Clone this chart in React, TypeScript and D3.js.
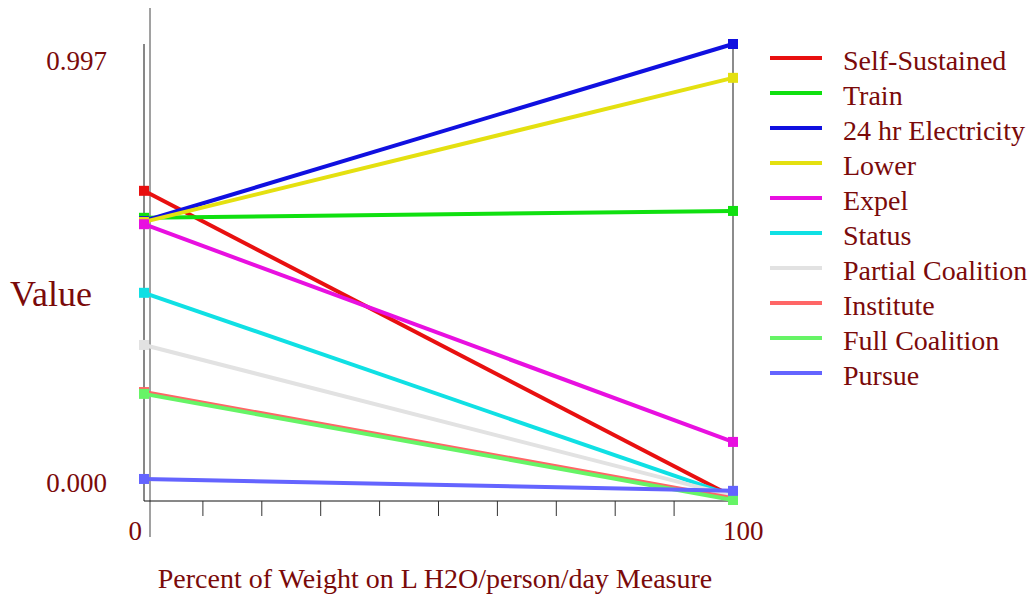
import React from "react";
import * as d3 from "d3";

const seriesNames = [
  "Self-Sustained",
  "Train",
  "24 hr Electricity",
  "Lower",
  "Expel",
  "Status",
  "Partial Coalition",
  "Institute",
  "Full Coalition",
  "Pursue",
];
const seriesColors = [
  "#e81010",
  "#10e010",
  "#1010e0",
  "#e4e010",
  "#e810e0",
  "#10e0e4",
  "#e2e2e2",
  "#ff6666",
  "#66f466",
  "#6464ff",
];
const valuesAt0 = [0.676, 0.617, 0.61, 0.608, 0.603, 0.453, 0.339, 0.236, 0.232, 0.046];
const valuesAt100 = [0.007, 0.632, 0.997, 0.923, 0.127, 0.009, 0.009, 0.004, 0.0, 0.02];
const weights = [0, 100];
const xTickValues = [10, 20, 30, 40, 50, 60, 70, 80, 90];
const yTickLabels = [
  { value: 0.997, label: "0.997", inset: 17 },
  { value: 0.0, label: "0.000", inset: -17 },
];

const FONT = "'Liberation Serif', 'Times New Roman', serif";
const TXT = "#7a0a0a";

export default function App() {
  const x = d3.scaleLinear().domain([0, 100]).range([144, 733]);
  const y = d3.scaleLinear().domain([0, 0.997]).range([500, 44]);
  const line = d3
    .line<[number, number]>()
    .x((d) => x(d[0]))
    .y((d) => y(d[1]));
  const axisY = 501;

  return (
    <div style={{ position: "absolute", left: 0, top: 0 }}>
      <svg width={1032} height={599} style={{ display: "block", background: "#fff" }}>
        <line x1={150} x2={150} y1={8} y2={537} stroke="#444" strokeWidth={1} />
        <line x1={x(0)} x2={x(0)} y1={44} y2={axisY} stroke="#111" strokeWidth={1} />
        <line x1={x(100)} x2={x(100)} y1={44} y2={axisY} stroke="#666" strokeWidth={1.5} />
        <line x1={x(0)} x2={x(100)} y1={axisY} y2={axisY} stroke="#111" strokeWidth={1} />
        {xTickValues.map((t) => (
          <line key={t} x1={x(t)} x2={x(t)} y1={axisY} y2={axisY + 15} stroke="#333" strokeWidth={1} />
        ))}
        {yTickLabels.map((t) => (
          <text
            key={t.label}
            x={107}
            y={y(t.value) + t.inset}
            textAnchor="end"
            dominantBaseline="central"
            fontFamily={FONT}
            fontSize={27}
            fill={TXT}
          >
            {t.label}
          </text>
        ))}
        <text x={x(0) - 2} y={531} textAnchor="end" dominantBaseline="central" fontFamily={FONT} fontSize={27} fill={TXT}>
          0
        </text>
        <text x={x(100) - 10} y={531} textAnchor="start" dominantBaseline="central" fontFamily={FONT} fontSize={27} fill={TXT}>
          100
        </text>
        <text x={51} y={294} textAnchor="middle" dominantBaseline="central" fontFamily={FONT} fontSize={36} fill={TXT}>
          Value
        </text>
        <text x={435} y={578} textAnchor="middle" dominantBaseline="central" fontFamily={FONT} fontSize={28} fill={TXT}>
          Percent of Weight on L H2O/person/day Measure
        </text>
        {seriesNames.map((name, i) => {
          const pts: [number, number][] = [
            [weights[0], valuesAt0[i]],
            [weights[1], valuesAt100[i]],
          ];
          return (
            <g key={name}>
              <path d={line(pts) || ""} fill="none" stroke={seriesColors[i]} strokeWidth={4} />
              {pts.map((p, j) => (
                <rect
                  key={j}
                  x={x(p[0]) - 5}
                  y={y(p[1]) - 5}
                  width={10}
                  height={10}
                  fill={seriesColors[i]}
                />
              ))}
            </g>
          );
        })}
        {seriesNames.map((name, i) => (
          <g key={name} transform={`translate(770, ${58 + 35 * i})`}>
            <line x1={0} x2={52} y1={0} y2={0} stroke={seriesColors[i]} strokeWidth={4} />
            <text x={73} y={2} dominantBaseline="central" fontFamily={FONT} fontSize={28} fill={TXT}>
              {name}
            </text>
          </g>
        ))}
      </svg>
    </div>
  );
}
